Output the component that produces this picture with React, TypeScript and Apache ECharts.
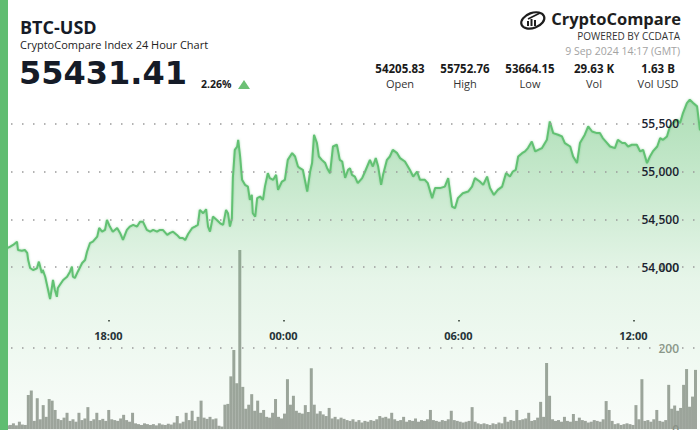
import React, { useEffect, useRef } from 'react';
import * as echarts from 'echarts';

const START = Date.UTC(2024, 8, 8, 14, 17);
const END = Date.UTC(2024, 8, 9, 14, 17);
const MIN = 60000;

// price: minutes since start, value (USD)
const priceMinutes = [
  0, 16, 21, 27, 35, 37, 45, 51, 56, 58, 62, 68, 76, 80, 86, 88, 93, 99, 103, 107,
  109, 113, 117, 119, 123, 130, 138, 144, 148, 150, 154, 160, 169, 175, 179, 185, 191, 200, 204, 210,
  216, 220, 226, 232, 241, 247, 253, 261, 267, 274, 282, 288, 294, 302, 309, 315, 323, 329, 335, 344,
  350, 356, 364, 370, 376, 381, 387, 395, 401, 407, 411, 418, 424, 428, 432, 438, 446, 453, 459, 465,
  469, 473, 477, 479, 483, 488, 490, 494, 498, 504, 510, 514, 518, 520, 525, 529, 535, 541, 545, 551,
  555, 562, 568, 572, 580, 586, 592, 601, 607, 613, 617, 623, 632, 638, 642, 646, 652, 656, 662, 669,
  673, 679, 685, 693, 699, 704, 710, 716, 720, 724, 730, 736, 745, 751, 761, 767, 773, 778, 784, 788,
  796, 802, 808, 817, 823, 833, 843, 850, 858, 864, 874, 880, 889, 895, 905, 915, 922, 930, 936, 942,
  952, 963, 971, 977, 987, 994, 1002, 1008, 1016, 1024, 1033, 1041, 1049, 1055, 1061, 1066, 1074, 1080, 1086, 1094,
  1101, 1107, 1115, 1125, 1131, 1138, 1148, 1156, 1162, 1173, 1179, 1187, 1193, 1203, 1210, 1218, 1228, 1234, 1240, 1249,
  1255, 1265, 1271, 1280, 1286, 1292, 1300, 1310, 1317, 1323, 1331, 1337, 1343, 1352, 1358, 1364, 1372, 1378, 1384, 1393,
  1399, 1405, 1413, 1419, 1426, 1434, 1440,
];
const priceValues = [
  54206, 54199, 54213, 54231, 54265, 54178, 54171, 54178, 54147, 54073, 53990, 53969, 53986, 54056, 53937, 53969, 53898, 53759, 53664, 53793,
  53864, 53759, 53688, 53780, 53811, 53864, 53898, 53951, 54003, 53898, 53885, 53951, 54042, 54073, 54160, 54249, 54265, 54318, 54409, 54370,
  54388, 54493, 54423, 54370, 54409, 54357, 54283, 54388, 54423, 54441, 54423, 54475, 54475, 54388, 54370, 54388, 54370, 54388, 54388, 54336,
  54357, 54370, 54336, 54304, 54304, 54283, 54346, 54406, 54423, 54441, 54598, 54563, 54605, 54423, 54370, 54528, 54493, 54458, 54441, 54598,
  54563, 54423, 54511, 54930, 55227, 55262, 55332, 55157, 54913, 54860, 54842, 54703, 54755, 54563, 54528, 54721, 54738, 54703, 54842, 54983,
  54930, 54913, 54965, 54808, 54895, 54913, 55122, 55193, 55157, 55052, 55035, 55018, 54790, 55000, 55088, 55385, 55298, 55157, 55122, 55088,
  55035, 54983, 55262, 55280, 55122, 55105, 54934, 55018, 55035, 54965, 54947, 54878, 54930, 55000, 55122, 55052, 55140, 55052, 54860, 54965,
  55122, 55157, 55227, 55192, 55140, 55105, 55018, 54947, 55000, 54913, 54913, 54878, 54721, 54826, 54826, 54842, 54930, 54633, 54616, 54721,
  54773, 54790, 54842, 54930, 54895, 54860, 54947, 54826, 54755, 54808, 54842, 54983, 54947, 55000, 55018, 55157, 55192, 55210, 55245, 55314,
  55210, 55227, 55245, 55332, 55524, 55402, 55385, 55367, 55298, 55262, 55157, 55088, 55298, 55385, 55472, 55419, 55402, 55402, 55350, 55298,
  55262, 55245, 55332, 55298, 55298, 55262, 55280, 55280, 55210, 55227, 55088, 55157, 55210, 55262, 55350, 55332, 55367, 55472, 55507, 55542,
  55507, 55612, 55717, 55753, 55717, 55682, 55431,
];

// volume (BTC) per equal time bin across the 24h window
const volumes = [
  8, 12, 9, 10, 14, 9, 18, 11, 10, 84,
  95, 20, 76, 24, 59, 30, 74, 70, 47, 25,
  22, 28, 40, 20, 24, 18, 40, 22, 26, 54,
  20, 24, 40, 22, 25, 20, 47, 24, 22, 20,
  26, 35, 22, 18, 40, 14, 12, 10, 14, 12,
  10, 12, 9, 14, 11, 10, 13, 11, 16, 32,
  14, 18, 40, 22, 45, 20, 30, 70, 28, 25,
  30, 24, 26, 8, 6, 60, 62, 130, 195, 113,
  442, 104, 50, 60, 86, 45, 70, 40, 47, 30,
  28, 40, 74, 30, 26, 38, 123, 60, 82, 45,
  40, 38, 59, 42, 150, 60, 38, 44, 36, 32,
  52, 26, 30, 24, 28, 25, 22, 20, 24, 18,
  22, 16, 20, 18, 22, 20, 24, 32, 28, 30,
  26, 40, 24, 20, 22, 30, 18, 22, 20, 26,
  18, 22, 20, 24, 47, 22, 20, 18, 22, 20,
  24, 45, 22, 20, 18, 16, 18, 20, 54, 18,
  14, 12, 14, 12, 10, 14, 12, 16, 14, 30,
  18, 22, 20, 47, 22, 24, 26, 40, 20, 22,
  28, 67, 30, 163, 82, 24, 20, 22, 18, 30,
  20, 18, 37, 20, 28, 22, 20, 16, 18, 22,
  20, 18, 24, 69, 47, 20, 12, 14, 10, 12,
  14, 12, 10, 59, 24, 123, 20, 22, 18, 24,
  47, 20, 18, 22, 109, 50, 58, 45, 52, 109,
  148, 55, 80, 146,
];

const labelHours = [18, 0, 6, 12];
const priceTicks = [54000, 54500, 55000, 55500];
const volumeTicks = [200, 400];

const statValues = ['54205.83', '55752.76', '53664.15', '29.63 K', '1.63 B'];
const statLabels = ['Open', 'High', 'Low', 'Vol', 'Vol USD'];
const statCenters = [400, 465, 530, 594, 658];

const GREEN = '#60bd71';
const FONT = '"Open Sans", "Noto Sans", sans-serif';

function pad(n: number) {
  return n < 10 ? '0' + n : String(n);
}

function txt(text: string, x: number, y: number, size: number, weight: any, fill: string, align = 'left', family = FONT) {
  return {
    type: 'text',
    x,
    y,
    silent: true,
    z: 100,
    style: {
      text,
      fontSize: size,
      fontWeight: weight,
      fontFamily: family,
      lineHeight: Math.round(size * 1.15),
      fill,
      align,
      textAlign: align,
      verticalAlign: 'middle',
      textVerticalAlign: 'middle',
    },
  };
}

export default function App() {
  const ref = useRef<HTMLDivElement>(null);

  useEffect(() => {
    if (!ref.current) return;
    const chart = echarts.init(ref.current, undefined, { renderer: 'svg' });
    const volStep = 1440 / volumes.length;

    const dotted = { type: [1.5, 9.5] as any, color: '#9b9b9b', width: 1.5 };

    const graphic: any[] = [
      { type: 'rect', shape: { x: 0, y: 0, width: 8, height: 460 }, style: { fill: GREEN }, z: 100, silent: true },
      txt('BTC-USD', 20, 26.5, 18, 'bold', '#151b27'),
      txt('CryptoCompare Index 24 Hour Chart', 20, 44, 11, 'normal', '#222'),
      txt('55431.41', 19, 73, 32, 'bold', '#151b27', 'left', '"DejaVu Sans", sans-serif'),
      txt('2.26%', 201, 84, 10.5, 'bold', '#1a1a1a'),
      { type: 'polygon', shape: { points: [[238, 89], [250, 89], [244, 80]] }, style: { fill: '#6cc075' }, z: 100, silent: true },
      txt('CryptoCompare', 681, 18.8, 16.5, 'bold', '#1e1e1e', 'right'),
      txt('POWERED BY CCDATA', 680, 36, 10, 500, '#333', 'right'),
      txt('9 Sep 2024 14:17 (GMT)', 680, 50.8, 10.5, 'normal', '#a3a3a3', 'right'),
      // logo icon
      { type: 'ellipse', shape: { cx: 533, cy: 20.5, rx: 12, ry: 7.5 }, rotation: 0.35, originX: 533, originY: 20.5, style: { fill: 'none', stroke: '#1e1e1e', lineWidth: 2.2 }, z: 100, silent: true },
      { type: 'rect', shape: { x: 527, y: 21, width: 2, height: 5 }, style: { fill: '#1e1e1e' }, z: 100, silent: true },
      { type: 'rect', shape: { x: 530.5, y: 19, width: 2, height: 7 }, style: { fill: '#1e1e1e' }, z: 100, silent: true },
      { type: 'rect', shape: { x: 534, y: 20, width: 2, height: 6 }, style: { fill: '#1e1e1e' }, z: 100, silent: true },
      { type: 'line', shape: { x1: 528, y1: 19, x2: 540, y2: 13 }, style: { stroke: '#1e1e1e', lineWidth: 1.8 }, z: 100, silent: true },
    ];
    statValues.forEach((v, i) => {
      graphic.push(txt(v, statCenters[i], 68, 11.5, 'bold', '#1a1a1a', 'center'));
      graphic.push(txt(statLabels[i], statCenters[i], 83.5, 11, 'normal', '#333', 'center'));
    });

    const hiddenX = (gridIndex: number) => ({
      type: 'time',
      gridIndex,
      min: START,
      max: END,
      show: false,
    });

    const option: any = {
      animation: false,
      useUTC: true,
      backgroundColor: '#fff',
      textStyle: { fontFamily: FONT },
      grid: [
        { left: 0, right: 0, top: 76, bottom: 2 },
        { left: 0, right: 0, top: 186, bottom: 31 },
        { left: 0, right: 0, top: 0, bottom: 140 },
      ],
      xAxis: [
        hiddenX(0),
        hiddenX(1),
        {
          type: 'time',
          gridIndex: 2,
          min: START,
          max: END,
          splitNumber: 3,
          axisLine: { show: false },
          splitLine: { show: false },
          axisTick: { show: true, length: 1.5, lineStyle: { color: '#222', width: 1.5 } },
          axisLabel: {
            margin: 10,
            fontSize: 11,
            fontWeight: 'bold',
            color: '#1b2230',
            fontFamily: FONT,
            hideOverlap: false,
            formatter: (v: number) => {
              const d = new Date(v);
              if (d.getUTCMinutes() !== 0 || labelHours.indexOf(d.getUTCHours()) < 0) return '';
              return pad(d.getUTCHours()) + ':' + pad(d.getUTCMinutes());
            },
          },
        },
      ],
      yAxis: [
        {
          type: 'value',
          gridIndex: 0,
          position: 'right',
          min: 52000,
          max: 56000,
          interval: 500,
          z: 10,
          axisLine: { show: false },
          axisTick: { show: false },
          splitLine: { show: false },
          axisLabel: {
            inside: true,
            margin: 21,
            fontSize: 12,
            fontWeight: 600,
            color: '#1b2230',
            fontFamily: FONT,
            formatter: (v: number) => (priceTicks.indexOf(v) >= 0 ? v.toLocaleString('en-US') : ''),
          },
        },
        {
          type: 'value',
          gridIndex: 1,
          position: 'right',
          min: 0,
          max: 600,
          interval: 200,
          axisLine: { show: false },
          axisTick: { show: false },
          splitLine: { show: false },
          axisLabel: {
            inside: true,
            margin: 21,
            fontSize: 12,
            fontWeight: 600,
            color: '#8e938c',
            fontFamily: FONT,
            formatter: (v: number) => (v === 0 || volumeTicks.indexOf(v) >= 0 ? String(v) : ''),
          },
        },
        { type: 'value', gridIndex: 2, show: false },
      ],
      series: [
        {
          type: 'bar',
          xAxisIndex: 1,
          yAxisIndex: 1,
          barWidth: 3,
          z: 1,
          silent: true,
          itemStyle: { color: 'rgba(138,143,135,0.82)' },
          data: volumes.map((v, i) => [START + i * volStep * MIN, v]),
          markLine: {
            silent: true,
            symbol: ['none', 'none'],
            label: { show: false },
            lineStyle: dotted,
            data: [{ yAxis: volumeTicks[0] }],
          },
        },
        {
          type: 'line',
          xAxisIndex: 0,
          yAxisIndex: 0,
          z: 3,
          silent: true,
          showSymbol: false,
          symbol: 'none',
          data: priceMinutes.map((m, i) => [START + m * MIN, priceValues[i]]),
          lineStyle: { color: '#62c173', width: 2, shadowColor: 'rgba(95,191,112,0.5)', shadowBlur: 2 },
          areaStyle: {
            color: new echarts.graphic.LinearGradient(0, 0, 0, 1, [
              { offset: 0, color: 'rgba(95,191,112,0.72)' },
              { offset: 0.25, color: 'rgba(95,191,112,0.48)' },
              { offset: 0.5, color: 'rgba(95,191,112,0.22)' },
              { offset: 1, color: 'rgba(95,191,112,0.02)' },
            ]),
          },
          markLine: {
            silent: true,
            symbol: ['none', 'none'],
            label: { show: false },
            lineStyle: dotted,
            data: priceTicks.map((v) => ({ yAxis: v })),
          },
        },
      ],
      graphic,
    };

    chart.setOption(option);
    return () => chart.dispose();
  }, []);

  return (
    <div style={{ position: 'fixed', left: 0, top: 0, width: 700, height: 430, overflow: 'hidden', background: '#fff' }}>
      <div ref={ref} style={{ width: 700, height: 460 }} />
    </div>
  );
}
